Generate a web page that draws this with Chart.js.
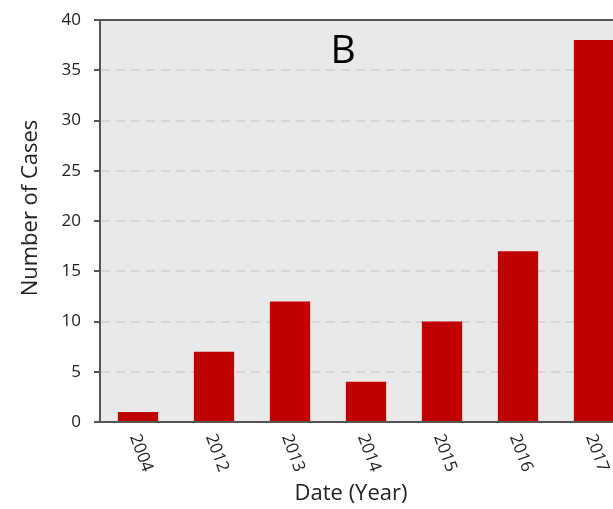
<!DOCTYPE html>
<html lang="en">
<head>
    <meta charset="UTF-8">
    <script src="https://cdn.jsdelivr.net/npm/chart.js"></script>
    <style>
        html, body {
            margin: 0;
            padding: 0;
            background: #ffffff;
            overflow: hidden;
        }
        .chart-box {
            position: relative;
            width: 640px;
            height: 509px;
        }
    </style>
</head>
<body>
    <div class="chart-box">
        <canvas id="casesChart"></canvas>
    </div>

    <script>
        const years = ['2004', '2012', '2013', '2014', '2015', '2016', '2017'];
        const cases = [1, 7, 12, 4, 10, 17, 38];
        const yTicks = [0, 5, 10, 15, 20, 25, 30, 35, 40];

        const panelLabel = 'B';
        const yTitle = 'Number of Cases';
        const xTitle = 'Date (Year)';

        const textFont = '"Open Sans", "Noto Sans", sans-serif';
        const axisGray = '#555555';

        // background, top frame line, rotated year labels and titles
        const decorPlugin = {
            id: 'decor',
            beforeDraw(chart) {
                const { ctx, chartArea: a } = chart;
                ctx.save();
                ctx.fillStyle = '#e9e9e9';
                ctx.fillRect(a.left, a.top, a.right - a.left, a.bottom - a.top);
                ctx.restore();
            },
            afterDraw(chart) {
                const { ctx, chartArea: a } = chart;
                const xScale = chart.scales.x;
                ctx.save();

                ctx.strokeStyle = axisGray;
                ctx.lineWidth = 2;
                ctx.beginPath();
                ctx.moveTo(a.left - 1, a.top);
                ctx.lineTo(a.right, a.top);
                ctx.stroke();

                ctx.fillStyle = '#222222';
                ctx.font = '17px ' + textFont;
                ctx.textAlign = 'center';
                ctx.textBaseline = 'middle';
                xScale.ticks.forEach((t, i) => {
                    const px = xScale.getPixelForTick(i);
                    ctx.save();
                    ctx.translate(px + 3, a.bottom + 31);
                    ctx.rotate(70 * Math.PI / 180);
                    ctx.fillText(years[i], 0, 0);
                    ctx.restore();
                });

                ctx.font = '22px ' + textFont;
                ctx.textBaseline = 'alphabetic';
                ctx.fillText(xTitle, a.left + 251, 500);

                ctx.save();
                ctx.translate(37, 208);
                ctx.rotate(-Math.PI / 2);
                ctx.fillText(yTitle, 0, 0);
                ctx.restore();

                ctx.fillStyle = '#000000';
                ctx.font = '39px ' + textFont;
                ctx.fillText(panelLabel, a.left + 243, 63);

                ctx.restore();
            }
        };

        const ctx = document.getElementById('casesChart').getContext('2d');
        const casesChart = new Chart(ctx, {
            type: 'bar',
            data: {
                labels: years,
                datasets: [{
                    label: yTitle,
                    data: cases,
                    backgroundColor: '#c00000',
                    borderWidth: 0,
                    barPercentage: 0.53,
                    categoryPercentage: 1
                }]
            },
            options: {
                responsive: true,
                maintainAspectRatio: false,
                animation: false,
                layout: {
                    padding: { top: 20, right: 8, bottom: 0, left: 0 }
                },
                scales: {
                    x: {
                        grid: { display: false },
                        border: { color: axisGray, width: 2 },
                        ticks: { display: false },
                        afterFit(scale) {
                            scale.height = 87;
                        }
                    },
                    y: {
                        min: 0,
                        max: 40,
                        afterBuildTicks(scale) {
                            scale.ticks = yTicks.map(v => ({ value: v }));
                        },
                        grid: {
                            color: c => (c.tick && (c.tick.value === 0 || c.tick.value === 40)) ? 'rgba(0,0,0,0)' : '#d6d6d6',
                            lineWidth: 2,
                            tickLength: 6,
                            tickColor: axisGray,
                            tickWidth: 2,
                            tickBorderDash: []
                        },
                        border: { color: axisGray, width: 2, dash: [9, 6] },
                        ticks: {
                            padding: 13,
                            color: '#222222',
                            font: { family: textFont, size: 17 }
                        },
                        afterFit(scale) {
                            scale.width = 100;
                            scale.paddingTop = 0;
                        }
                    }
                },
                plugins: {
                    legend: { display: false },
                    tooltip: { enabled: false }
                }
            },
            plugins: [decorPlugin]
        });
    </script>
</body>
</html>
